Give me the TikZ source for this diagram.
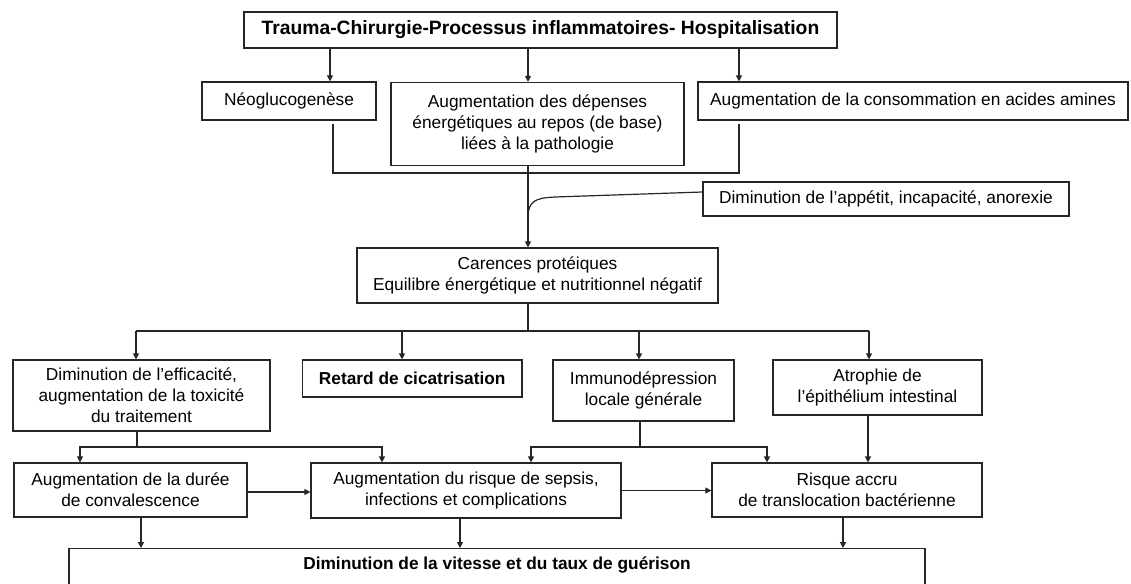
\documentclass[tikz,border=0pt]{standalone}
\usepackage{fontspec}
\setmainfont{Liberation Sans}
\usetikzlibrary{arrows.meta,calc}
\begin{document}
\begin{tikzpicture}[x=1pt,y=-1pt,
  box/.style={draw=black!85, line width=1.2pt, align=center, inner sep=0pt,
    font=\fontsize{17.3}{21}\selectfont, text=black},
  link/.style={draw=black!85, line width=1.2pt},
  arr/.style={link, -{Triangle[length=6pt,width=6pt]}},
]
\useasboundingbox (0,0) rectangle (1131,583);
\clip (0,0) rectangle (1131,583);

% ---- cause ----
\node[box, minimum width=593pt, minimum height=36pt, font=\fontsize{19.3}{23}\selectfont\bfseries] (top) at (540.5,30)
  {Trauma-Chirurgie-Processus inflammatoires- Hospitalisation};

% ---- metabolic responses ----
\node[box, minimum width=174pt, minimum height=38pt] (neo) at (289,101) {Néoglucogenèse};
\node[box, minimum width=293pt, minimum height=83pt] (dep) at (537.5,124)
  {Augmentation des dépenses\\énergétiques au repos (de base)\\liées à la pathologie};
\node[box, minimum width=430pt, minimum height=38pt] (ami) at (913,101)
  {Augmentation de la consommation en acides amines};

\node[box, minimum width=366pt, minimum height=34pt] (app) at (886,199)
  {Diminution de l’appétit, incapacité, anorexie};

\node[box, minimum width=361pt, minimum height=55pt] (car) at (537.5,275.5)
  {Carences protéiques\\Equilibre énergétique et nutritionnel négatif};

% ---- consequences ----
\node[box, minimum width=257pt, minimum height=71pt] (eff) at (141.5,395.5)
  {Diminution de l’efficacité,\\augmentation de la toxicité\\du traitement};
\node[box, minimum width=219.5pt, minimum height=37pt] (cic) at (412.25,378.5)
  {\textbf{Retard de cicatrisation}};
\node[box, minimum width=181pt, minimum height=61pt] (imm) at (643.5,390.5)
  {Immunodépression\\locale générale};
\node[box, minimum width=209pt, minimum height=55pt] (atr) at (877.5,387.5)
  {Atrophie de\\l’épithélium intestinal};

\node[box, minimum width=233pt, minimum height=54pt] (dur) at (130.5,490)
  {Augmentation de la durée\\de convalescence};
\node[box, minimum width=310pt, minimum height=55pt] (sep) at (466,490.5)
  {Augmentation du risque de sepsis,\\infections et complications};
\node[box, minimum width=270pt, minimum height=54pt] (tra) at (847,490)
  {Risque accru\\de translocation bactérienne};

\node[box, anchor=north, minimum width=856pt, text height=21pt, text depth=50pt, font=\fontsize{17.3}{21}\selectfont\bfseries] (gue) at (497,548)
  {Diminution de la vitesse et du taux de guérison};

% ---- guide columns and rows ----
\coordinate (xa) at (330,0);
\coordinate (xn) at (333,0);
\coordinate (xb) at (528,0);
\coordinate (xc) at (739,0);
\coordinate (j1) at (0,173);
\coordinate (m1) at (555,197);
\coordinate (m2) at (0,218);
\coordinate (br) at (0,331);
\coordinate (x1) at (136,0);
\coordinate (x2) at (402,0);
\coordinate (x3) at (639,0);
\coordinate (x4) at (869,0);
\coordinate (r) at (0,447);
\coordinate (e0) at (137,0);
\coordinate (e1) at (80,0);
\coordinate (e2) at (382,0);
\coordinate (i0) at (640,0);
\coordinate (i1) at (531,0);
\coordinate (i2) at (767,0);
\coordinate (t0) at (868,0);
\coordinate (d1) at (141,0);
\coordinate (d2) at (460,0);
\coordinate (d3) at (843,0);

% ---- connectors ----
\draw[arr] (top.south -| xa) -- (neo.north -| xa);
\draw[arr] (top.south -| xb) -- (dep.north -| xb);
\draw[arr] (top.south -| xc) -- (ami.north -| xc);

\draw[link] ($(neo.south -| xn)+(0,3)$) |- (j1 -| xc) -- ($(ami.south -| xc)+(0,3)$);
\draw[arr] (dep.south -| xb) -- (car.north -| xb);
\draw[link] ($(app.west)+(0,-7)$) -- (m1) .. controls (535,198) and (528,201) .. (xb |- m2);

\draw[link] (car.south -| xb) -- (xb |- br);
\draw[link] (br -| x1) -- (br -| x4);
\draw[arr] (br -| x1) -- (eff.north -| x1);
\draw[arr] (br -| x2) -- (cic.north -| x2);
\draw[arr] (br -| x3) -- (imm.north -| x3);
\draw[arr] (br -| x4) -- (atr.north -| x4);

\draw[link] (eff.south -| e0) -- (e0 |- r);
\draw[arr] (e0 |- r) -| (dur.north -| e1);
\draw[arr] (e0 |- r) -| (sep.north -| e2);
\draw[link] (imm.south -| i0) -- (i0 |- r);
\draw[arr] (i0 |- r) -| (sep.north -| i1);
\draw[arr] (i0 |- r) -| (tra.north -| i2);
\draw[arr] (atr.south -| t0) -- (tra.north -| t0);

\draw[arr] ($(dur.east)+(0,2)$) -- ($(sep.west |- dur.east)+(0,2)$);
\draw[arr] (sep.east) -- (tra.west |- sep.east);

\draw[arr] (dur.south -| d1) -- (gue.north -| d1);
\draw[arr] (sep.south -| d2) -- (gue.north -| d2);
\draw[arr] (tra.south -| d3) -- (gue.north -| d3);
\end{tikzpicture}
\end{document}
